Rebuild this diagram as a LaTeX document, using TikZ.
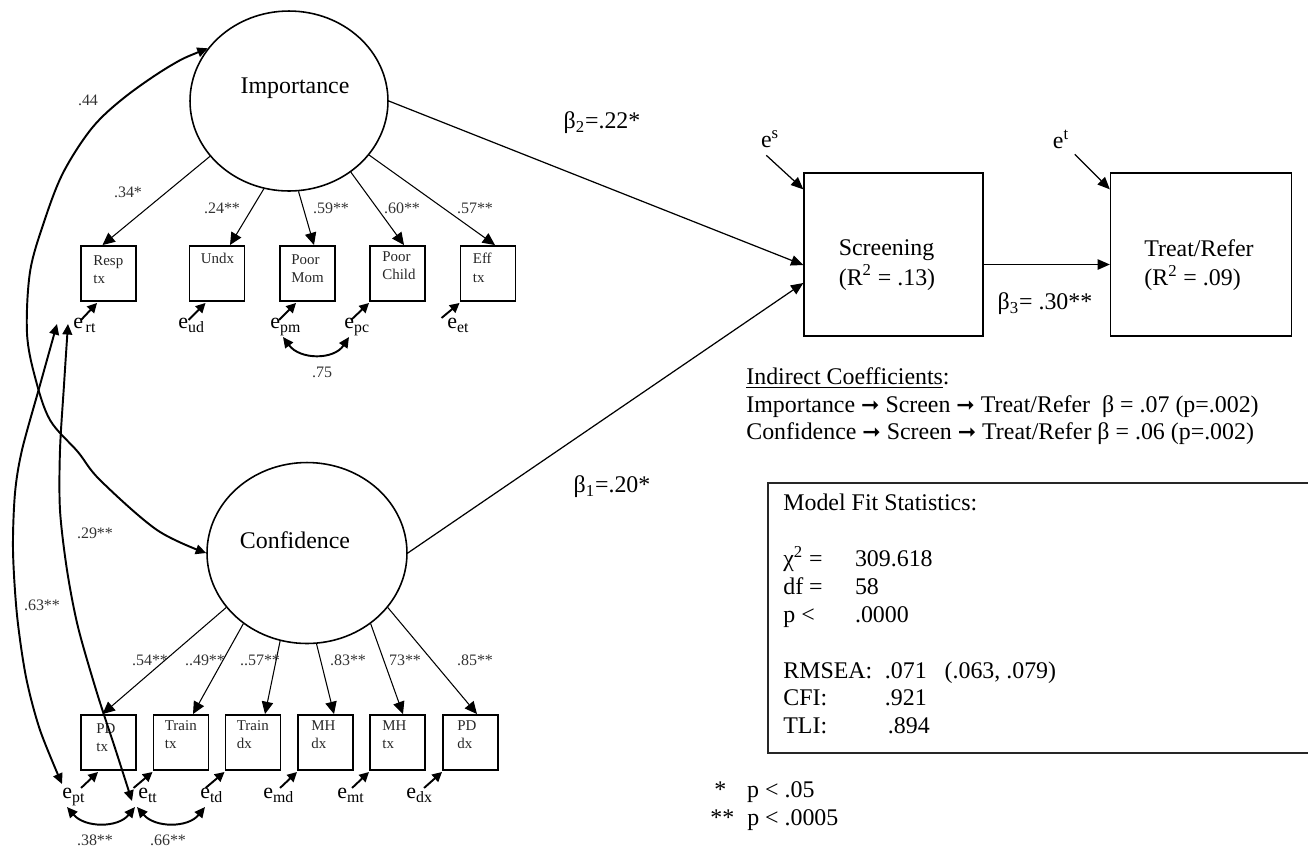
\documentclass[tikz,border=0pt]{standalone}
\usepackage{fontspec}
\setmainfont{Liberation Serif}
\newfontfamily\arrowfont{DejaVu Sans}
\usetikzlibrary{arrows.meta,calc,shapes.geometric}

% error term: "e" with a lowered index
\newcommand{\errterm}[1]{{\fontsize{12.5}{12.5}\selectfont e}\raisebox{-2.6pt}{\fontsize{9}{9}\selectfont #1}}
% path arrow used in the indirect-effect lines
\newcommand{\patharrow}{{\arrowfont\fontsize{12.5}{12.5}\selectfont ➞}}

\tikzset{
  latent/.style={draw, ellipse, line width=0.9pt, inner sep=0pt},
  indicator/.style={draw, rectangle, line width=1.1pt, minimum width=1.1cm, minimum height=1.1cm, inner sep=0pt},
  endog/.style={draw, rectangle, line width=0.8pt, minimum height=3.26cm, inner sep=0pt},
  boxtext/.style={anchor=north west, align=left, inner sep=0pt, font=\fontsize{8.5}{10.4}\selectfont, text=black!85},
  bigtext/.style={inner sep=0pt, font=\fontsize{13.6}{15.6}\selectfont},
  endtext/.style={inner sep=0pt, align=left, font=\fontsize{13.6}{16.8}\selectfont},
  coef/.style={inner sep=0pt, font=\fontsize{9.1}{10}\selectfont, text=black!80},
  errlabel/.style={anchor=base west, inner sep=0pt},
  loading/.style={line width=0.6pt, -{Triangle[length=7pt,width=6.5pt]}},
  errarrow/.style={line width=1.1pt, -{Triangle[length=5.5pt,width=5.5pt]}},
  covarc/.style={line width=1.1pt, {Triangle[length=6pt,width=5.5pt]}-{Triangle[length=6pt,width=5.5pt]}},
  regpath/.style={line width=0.7pt, -{Triangle[length=7pt,width=6pt]}},
}

\begin{document}
\begin{tikzpicture}[x=0.02cm, y=-0.02cm]
\useasboundingbox (0,0) rectangle (1308,850);

% ---------- latent factors ----------
\node[latent, minimum width=3.96cm, minimum height=3.6cm] (imp) at (289,101) {};
\node[bigtext] (impname) at (295,88) {Importance};
\node[latent, minimum width=4.0cm, minimum height=3.62cm] (conf) at (307,553) {};
\node[bigtext] (confname) at (295,540) {Confidence};

% ---------- indicators of Importance ----------
\foreach \n/\x in {resp/108.5, undx/217, pmom/307.5, pchild/397.5, efftx/488}
  \node[indicator] (\n) at (\x,273.5) {};
\node[boxtext] at ($(resp.north west)+(13,10)$) {Resp\\tx};
\node[boxtext] at ($(undx.north west)+(12,8)$) {Undx};
\node[boxtext] at ($(pmom.north west)+(12,9)$) {Poor\\Mom};
\node[boxtext] at ($(pchild.north west)+(13,6)$) {Poor\\Child};
\node[boxtext] at ($(efftx.north west)+(13,8)$) {Eff\\tx};

% ---------- indicators of Confidence ----------
\foreach \n/\x in {pdtx/108.5, trtx/181, trdx/253, mhdx/325.5, mhtx/397.5, pddx/470.5}
  \node[indicator] (\n) at (\x,742.5) {};
\node[boxtext] at ($(pdtx.north west)+(16,9)$) {PD\\tx};
\node[boxtext] at ($(trtx.north west)+(12,6)$) {Train\\tx};
\node[boxtext] at ($(trdx.north west)+(12,6)$) {Train\\dx};
\node[boxtext] at ($(mhdx.north west)+(14,6)$) {MH\\dx};
\node[boxtext] at ($(mhtx.north west)+(13,6)$) {MH\\tx};
\node[boxtext] at ($(pddx.north west)+(15,6)$) {PD\\dx};

% ---------- error terms ----------
\node[errlabel] (ert) at (73,328) {\errterm{\,rt}};
\node[errlabel] (eud) at (178,328) {\errterm{ud}};
\node[errlabel] (epm) at (270,328) {\errterm{pm}};
\node[errlabel] (epc) at (344,328) {\errterm{pc}};
\node[errlabel] (eet) at (447,328) {\errterm{et}};
\node[errlabel] (ept) at (62,798) {\errterm{pt}};
\node[errlabel] (ett) at (138,798) {\errterm{tt}};
\node[errlabel] (etd) at (200,798) {\errterm{td}};
\node[errlabel] (emd) at (263,798) {\errterm{md}};
\node[errlabel] (emt) at (337,798) {\errterm{mt}};
\node[errlabel] (edx) at (406,798) {\errterm{dx}};

\draw[errarrow] ($(resp.south west)+(1,18)$) -- ($(resp.south west)+(17,1)$);
\draw[errarrow] ($(undx.south west)+(0,18)$) -- ($(undx.south west)+(17,1)$);
\draw[errarrow] ($(pmom.south west)+(0,18)$) -- ($(pmom.south west)+(17,1)$);
\draw[errarrow] ($(pchild.south west)+(-18,18)$) -- ($(pchild.south west)+(0,1)$);
\draw[errarrow] ($(efftx.south west)+(-18,16)$) -- ($(efftx.south west)+(0,1)$);
\draw[errarrow] ($(pdtx.south west)+(1,17)$) -- ($(pdtx.south west)+(18,1)$);
\draw[errarrow] ($(trtx.south west)+(-19,17)$) -- ($(trtx.south west)+(0,1)$);
\draw[errarrow] ($(trdx.south west)+(-19,17)$) -- ($(trdx.south west)+(0,1)$);
\draw[errarrow] ($(mhdx.south west)+(-17,17)$) -- ($(mhdx.south west)+(0,1)$);
\draw[errarrow] ($(mhtx.south west)+(-17,17)$) -- ($(mhtx.south west)+(0,1)$);
\draw[errarrow] ($(pddx.south west)+(-18,17)$) -- ($(pddx.south west)+(0,1)$);

% ---------- factor loadings ----------
\draw[loading] (imp.215) -- ($(resp.north)+(-6,0)$);
\draw[loading] (imp.254) -- ($(undx.north)+(13,0)$);
\draw[loading] (imp.276) -- ($(pmom.north)+(6.5,0)$);
\draw[loading] (imp.311) -- ($(pchild.north)+(6.5,0)$);
\draw[loading] (imp.326) -- ($(efftx.north)+(7,0)$);
\node[coef] at (128,192) {.34*};
\node[coef] at (222,208) {.24**};
\node[coef] at (331,208) {.59**};
\node[coef] at (402,208) {.60**};
\node[coef] at (475,208) {.57**};

\draw[loading] (conf.214) -- ($(pdtx.north)+(-6,0)$);
\draw[loading] (conf.228) -- ($(trtx.north)+(12,0)$);
\draw[loading] (conf.253) -- ($(trdx.north)+(12,0)$);
\draw[loading] (conf.276) -- ($(mhdx.north)+(8.5,0)$);
\draw[loading] (conf.312) -- ($(mhtx.north)+(5.5,0)$);
\draw[loading] (conf.326) -- ($(pddx.north)+(6.5,0)$);
\node[coef] at (150,660) {.54**};
\node[coef] at (205,660) {..49**};
\node[coef] at (260,660) {..57**};
\node[coef] at (348,660) {.83**};
\node[coef] at (405,660) {73**};
\node[coef] at (475,660) {.85**};

% ---------- covariances ----------
% factor covariance
\draw[covarc] plot[smooth, tension=0.55] coordinates {(imp.147) (170,66) (125,97) (92,128) (63,173) (44,222) (30,272) (27,333) (35,377) (50,420) (78,452) (100,480) (157,530) (conf.west)};
\node[coef] at (88,100) {.44};

% residual covariances
\coordinate (rtA) at ($(ert.base west)+(-16,-4)$);
\coordinate (rtB) at ($(ert.base west)+(-5,-4)$);
\coordinate (ptA) at ($(ept.base west)+(0,-14)$);
\coordinate (ttA) at ($(ett.base west)+(-6,3)$);
\draw[covarc] plot[smooth] coordinates {(rtA) (40,385) (22,450) (15,493) (13,550) (17,615) (26,677) (40,730) (ptA)};
\node[coef] at (42,605) {.63**};
\draw[covarc] plot[smooth] coordinates {(rtB) (64,385) (60,450) (60,510) (67,570) (78,627) (97,693) (115,748) (ttA)};
\node[coef] at (95,533) {.29**};

\coordinate (pmB) at ($(epm.base west)+(13,9)$);
\coordinate (pcB) at ($(epc.base west)+(5,9)$);
\draw[covarc] (pmB) .. controls (300,360) and (334,360) .. (pcB);
\node[coef] at (322,372) {.75};

\coordinate (ptB) at ($(ept.base west)+(5,9)$);
\coordinate (ttB) at ($(ett.base west)+(-3,9)$);
\coordinate (ttC) at ($(ett.base west)+(-1,9)$);
\coordinate (tdB) at ($(etd.base west)+(5,9)$);
\draw[covarc] (ptB) .. controls (85,828) and (118,828) .. (ttB);
\draw[covarc] (ttC) .. controls (155,828) and (188,828) .. (tdB);
\node[coef] at (95,840) {.38**};
\node[coef] at (168,840) {.66**};

% ---------- structural part ----------
\node[endog, minimum width=3.58cm] (scr) at (893.5,254.5) {};
\node[endtext] (scrtext) at (887,265) {Screening\\(R\textsuperscript{2} = .13)};
\node[endog, minimum width=3.62cm] (trt) at (1201,254.5) {};
\node[endtext] (trttext) at (1199,265) {Treat/Refer\\(R\textsuperscript{2} = .09)};

\draw[regpath] (imp.east) -- ($(scr.west)+(0,10.5)$);
\draw[regpath] (conf.east) -- ($(scr.west)+(0,28.5)$);
\draw[regpath] ($(scr.east)+(0,10)$) -- ($(trt.west)+(0,10)$);

\node[bigtext] (es) at (770,139) {e\textsuperscript{s}};
\node[bigtext] (et) at (1061,139) {e\textsuperscript{t}};
\draw[regpath] ($(scr.north west)+(-37,-17)$) -- ($(scr.north west)+(0,17)$);
\draw[regpath] ($(trt.north west)+(-35,-18)$) -- ($(trt.north west)+(0,17)$);

\node[bigtext] (b2) at (602,123) {β\textsubscript{2}=.22*};
\node[bigtext] (b1) at (612,487) {β\textsubscript{1}=.20*};
\node[bigtext] (b3) at (1045,304) {β\textsubscript{3}= .30**};

% ---------- indirect effects ----------
\node[bigtext, anchor=north west, align=left] (indirect) at (746,367.5)
  {\underline{Indirect Coefficients}:\\
   Importance \patharrow{} Screen \patharrow{} Treat/Refer \ β = .07 (p=.002)\\
   Confidence \patharrow{} Screen \patharrow{} Treat/Refer β = .06 (p=.002)};

% ---------- model fit ----------
\node[draw=black!85, line width=1.2pt, anchor=north west, minimum width=11.2cm, minimum height=5.4cm, inner sep=0pt] (fitbox) at (767,482) {};
\node[bigtext, anchor=north west, align=left, font=\fontsize{13.6}{15.9}\selectfont] (fittext) at (783,493.5)
  {Model Fit Statistics:\\
   \mbox{}\\
   \makebox[40.8pt][l]{χ\textsuperscript{2} =}309.618\\
   \makebox[40.8pt][l]{df =}58\\
   \makebox[40.8pt][l]{p <}.0000\\
   \mbox{}\\
   \makebox[57.8pt][l]{RMSEA:}\makebox[34pt][l]{.071}(.063, .079)\\
   \makebox[57.8pt][l]{CFI:}.921\\
   \makebox[59.5pt][l]{TLI:}.894};

% ---------- significance key ----------
\node[bigtext, anchor=north west, align=left] (key) at (710,781.5)
  {\makebox[21pt][l]{\,*}p < .05\\
   \makebox[21pt][l]{**}p < .0005};
\end{tikzpicture}
\end{document}
